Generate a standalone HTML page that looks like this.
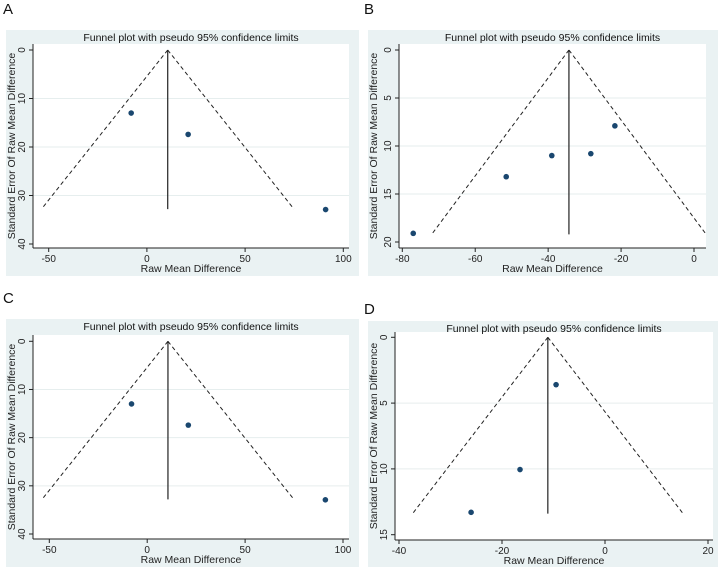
<!DOCTYPE html>
<html><head><meta charset="utf-8"><style>
body{margin:0;background:#fff;width:718px;height:568px;overflow:hidden;font-family:"Liberation Sans",sans-serif}
svg text{font-family:"Liberation Sans",sans-serif}
</style></head><body>
<svg id="fig" width="718" height="568" xmlns="http://www.w3.org/2000/svg"></svg>
<script>
// Panel A data
const aX = [-8, 21, 91];
const aSE = [13, 17.4, 32.9];
const aPooled = 10.6;
const aMaxSE = 32.8;
const aXTicks = [-50, 0, 50, 100];
const aYTicks = [0, 10, 20, 30, 40];
// Panel B data
const bX = [-77, -51.5, -39, -28.3, -21.7];
const bSE = [19.1, 13.2, 11, 10.8, 7.9];
const bPooled = -34.3;
const bMaxSE = 19.2;
const bXTicks = [-80, -60, -40, -20, 0];
const bYTicks = [0, 5, 10, 15, 20];
// Panel C data
const cX = [-8, 21, 91];
const cSE = [13, 17.4, 32.9];
const cPooled = 10.6;
const cMaxSE = 32.8;
const cXTicks = [-50, 0, 50, 100];
const cYTicks = [0, 10, 20, 30, 40];
// Panel D data
const dX = [-26, -16.5, -9.5];
const dSE = [13.3, 10.05, 3.6];
const dPooled = -11.1;
const dMaxSE = 13.4;
const dXTicks = [-40, -20, 0, 20];
const dYTicks = [0, 5, 10, 15];

const NS = "http://www.w3.org/2000/svg";
const svg = document.getElementById('fig');
function mk(tag, attrs, parent, text){
  const e = document.createElementNS(NS, tag);
  for (const k in attrs) e.setAttribute(k, attrs[k]);
  if (text !== undefined) e.textContent = text;
  (parent||svg).appendChild(e);
  return e;
}
function panel(id, letter, lab, box, plot, xd, xp, yd, yp, xs, ses, pooled, maxSE, xt, yt){
  const g = mk('g', {});
  
  
  const X = v => xp[0] + (v - xd[0]) / (xd[1] - xd[0]) * (xp[1] - xp[0]);
  const Y = v => yp[0] + (v - yd[0]) / (yd[1] - yd[0]) * (yp[1] - yp[0]);
  const l = mk('text', {x: lab[0], y: lab[1], 'font-size': 15, fill: '#111'}, g, letter);
  
  
  const bg = mk('rect', {x: box[0], y: box[1], width: box[2]-box[0], height: box[3]-box[1], fill: '#eaf2f3'}, g);
  
  
  const pr = mk('rect', {x: plot[0], y: plot[1], width: plot[2]-plot[0], height: plot[3]-plot[1], fill: '#fff'}, g);
  
  
  const t = mk('text', {x: (plot[0]+plot[2])/2, y: box[1]+11, 'font-size': 10.5, 'text-anchor': 'middle', fill: '#111'}, g, 'Funnel plot with pseudo 95% confidence limits');
  
  
  yt.forEach(v => {
    if (v !== yt[0] && v !== yt[yt.length-1]) {
      const gl = mk('line', {x1: plot[0], x2: plot[2], y1: Y(v), y2: Y(v), stroke: '#e6eeee', 'stroke-width': 1}, g);
      
      
    }
    const tk = mk('line', {x1: plot[0]-4, x2: plot[0], y1: Y(v), y2: Y(v), stroke: '#222'}, g);
    
    
    const tx = mk('text', {x: plot[0]-8, y: Y(v), 'font-size': 10, 'text-anchor': 'middle', fill: '#222', transform: `rotate(-90 ${plot[0]-8} ${Y(v)})`}, g, String(v));
    
    
  });
  xt.forEach(v => {
    const tk = mk('line', {x1: X(v), x2: X(v), y1: plot[3], y2: plot[3]+4, stroke: '#222'}, g);
    
    
    const tx = mk('text', {x: X(v), y: plot[3]+14, 'font-size': 10, 'text-anchor': 'middle', fill: '#222'}, g, String(v));
    
    
  });
  const ax = mk('line', {x1: plot[0], x2: plot[2], y1: plot[3], y2: plot[3], stroke: '#222'}, g);
  
  
  const ay = mk('line', {x1: plot[0], x2: plot[0], y1: plot[1], y2: plot[3], stroke: '#222'}, g);
  
  
  const xtl = mk('text', {x: (plot[0]+plot[2])/2, y: plot[3]+24, 'font-size': 10.5, 'text-anchor': 'middle', fill: '#222'}, g, 'Raw Mean Difference');
  
  
  const yx = box[0]+9, yy = (plot[1]+plot[3])/2;
  const ytl = mk('text', {x: yx, y: yy, 'font-size': 10.5, 'text-anchor': 'middle', fill: '#222', transform: `rotate(-90 ${yx} ${yy})`}, g, 'Standard Error Of Raw Mean Difference');
  
  
  const lo = pooled - 1.96*maxSE, hi = pooled + 1.96*maxSE;
  const f1 = mk('line', {x1: X(pooled), y1: Y(0), x2: X(lo), y2: Y(maxSE), stroke: '#222', 'stroke-dasharray': '4,3'}, g);
  
  
  const f2 = mk('line', {x1: X(pooled), y1: Y(0), x2: X(hi), y2: Y(maxSE), stroke: '#222', 'stroke-dasharray': '4,3'}, g);
  
  
  const pl = mk('line', {x1: X(pooled), y1: Y(0), x2: X(pooled), y2: Y(maxSE), stroke: '#222', 'stroke-width': 1.2}, g);
  
  
  xs.forEach((v, i) => {
    const c = mk('circle', {cx: X(v), cy: Y(ses[i]), r: 2.8, fill: '#1a476f'}, g);
    
    
  });
}
panel('a', 'A', [3, 14], [6, 30, 359, 276], [33, 44, 349, 248], [-50, 100], [48.7, 343.3], [0, 40], [50, 244], aX, aSE, aPooled, aMaxSE, aXTicks, aYTicks);
panel('b', 'B', [364, 14], [368, 30, 718, 276], [399, 44, 706, 248], [-80, 0], [402.3, 694], [0, 20], [50, 242], bX, bSE, bPooled, bMaxSE, bXTicks, bYTicks);
panel('c', 'C', [3, 303], [6, 319, 359, 567], [33, 335, 349, 539], [-50, 100], [49.3, 343], [0, 40], [341.3, 534], cX, cSE, cPooled, cMaxSE, cXTicks, cYTicks);
panel('d', 'D', [364, 314], [368, 321, 718, 567], [395, 332, 713, 540], [-40, 20], [399, 708], [0, 15], [337.3, 534.7], dX, dSE, dPooled, dMaxSE, dXTicks, dYTicks);
</script>
</body></html>
